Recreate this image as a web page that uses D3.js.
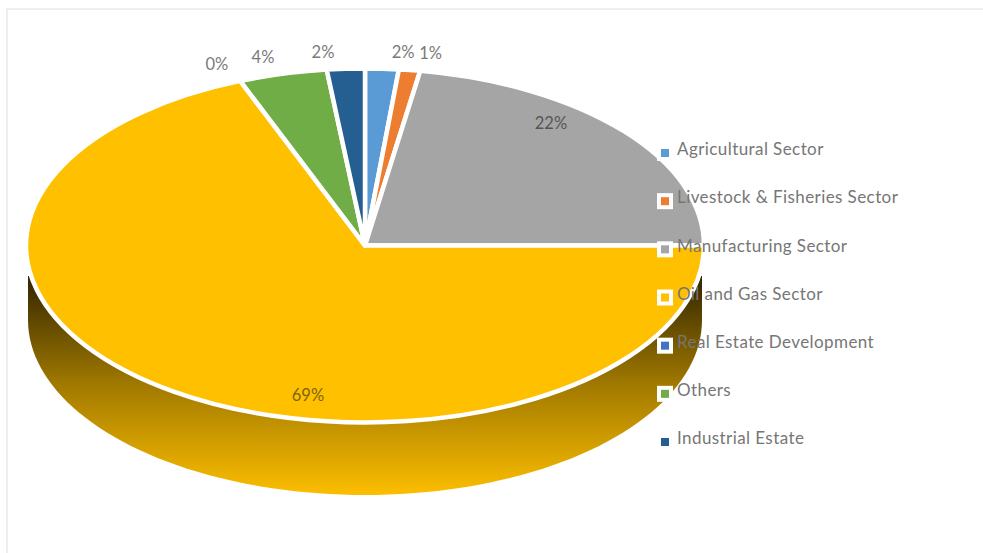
<!DOCTYPE html>
<html>
<head>
<meta charset="utf-8">
<script src="https://cdn.jsdelivr.net/npm/d3@7/dist/d3.min.js"></script>
<style>
  html, body { margin: 0; padding: 0; background: #fff; }
  svg { display: block; }
  text { font-family: Lato, "Open Sans", sans-serif; }
</style>
</head>
<body>
<svg id="chart" width="983" height="553"></svg>
<script>
// Investment share by sector; labels show the whole-number percentage
const sectors = ["Agricultural Sector", "Livestock & Fisheries Sector", "Manufacturing Sector",
  "Oil and Gas Sector", "Real Estate Development", "Others", "Industrial Estate"];
const shares = [1.6, 1.0, 22.4, 69.0, 0, 4.2, 1.8];
const sliceColors = ["#5b9bd5", "#ed7d31", "#a5a5a5", "#ffc000", "#4472c4", "#70ad47", "#255e91"];

// Layout of the tilted disc
const cx = 365, cy = 246, rx = 337, ry = 175, depth = 74, rimStroke = 2;
// Label placement relative to each slice's point on the rim (same order as sectors)
const labelRim = [1.13, 1.14, 0.72, 0.85, 1.13, 1.13, 1.13];
const labelNudge = [[19, 5], [15, 7], [1, -40], [104, 28], [-8, 4], [-9.6, 4.5], [-20.5, 5]];

const svg = d3.select("#chart");
const defs = svg.append("defs");

// Faint frame along the top and left
svg.append("path")
  .attr("d", "M7,553V9H983")
  .attr("fill", "none").attr("stroke", "#eeeeee").attr("stroke-width", 2);

// Side wall of the disc, shaded from dark at the rim to full yellow at the base
const wallGrad = defs.append("linearGradient")
  .attr("id", "wallShade").attr("gradientUnits", "userSpaceOnUse")
  .attr("x1", 0).attr("x2", 0).attr("y1", 274).attr("y2", 495);
wallGrad.append("stop").attr("offset", 0).attr("stop-color", "#2f2300");
wallGrad.append("stop").attr("offset", 0.5).attr("stop-color", "#a17900");
wallGrad.append("stop").attr("offset", 1).attr("stop-color", "#fcbe00");

defs.append("clipPath").attr("id", "wallClip")
  .append("rect").attr("x", 0).attr("y", 276).attr("width", 983).attr("height", 277);

const wall = d3.range(0, 181, 2).map(a => {
  const t = a * Math.PI / 180;
  return [cx - rx * Math.cos(t), cy + depth + ry * Math.sin(t)];
});
const wallLine = d3.line();
svg.append("path")
  .attr("clip-path", "url(#wallClip)")
  .attr("d", `M${cx - rx},${cy}` + wallLine(wall).replace("M", "L") + `L${cx + rx},${cy}Z`)
  .attr("fill", "url(#wallShade)");

// Top face: a unit pie stretched into an ellipse, widened by the white outline
const pie = d3.pie().value(d => d.value).sort(null);
const arcs = pie(sectors.map((name, i) => ({ name, value: shares[i], color: sliceColors[i] })));
const arc = d3.arc().innerRadius(0).outerRadius(1);

svg.append("g")
  .attr("transform", `translate(${cx},${cy - 0.5}) scale(${rx + rimStroke},${ry + rimStroke})`)
  .selectAll("path")
  .data(arcs)
  .join("path")
  .attr("d", arc)
  .attr("fill", d => d.data.color)
  .attr("stroke", "#fff")
  .attr("stroke-width", 4.5)
  .attr("stroke-linejoin", "round")
  .attr("vector-effect", "non-scaling-stroke");

// Percentage labels
const pct = d3.format(".0f");
svg.append("g")
  .selectAll("text")
  .data(arcs)
  .join("text")
  .attr("x", (d, i) => cx + rx * labelRim[i] * Math.sin((d.startAngle + d.endAngle) / 2) + labelNudge[i][0])
  .attr("y", (d, i) => cy - ry * labelRim[i] * Math.cos((d.startAngle + d.endAngle) / 2) + labelNudge[i][1])
  .attr("text-anchor", "middle")
  .attr("dominant-baseline", "middle")
  .attr("font-size", 16.5)
  .attr("fill", (d, i) => i === 3 ? "#7d6510" : i === 2 ? "#555555" : "#7a7a7a")
  .text(d => pct(d.data.value) + "%");

// Legend, drawn over the disc
const legendY = d3.scalePoint().domain(sectors).range([151, 440]);
const legend = svg.append("g")
  .selectAll("g")
  .data(arcs)
  .join("g")
  .attr("transform", d => `translate(665,${legendY(d.data.name)})`);

legend.append("rect")
  .attr("x", -8).attr("y", -6).attr("width", 16).attr("height", 16)
  .attr("fill", "#fff");
legend.append("rect")
  .attr("x", -4).attr("y", -2).attr("width", 8).attr("height", 8)
  .attr("fill", d => d.data.color);
legend.append("text")
  .attr("x", 12).attr("y", 0)
  .attr("dominant-baseline", "middle")
  .attr("font-size", 17)
  .attr("letter-spacing", 0.42)
  .attr("fill", "#767676")
  .text(d => d.data.name);
</script>
</body>
</html>
